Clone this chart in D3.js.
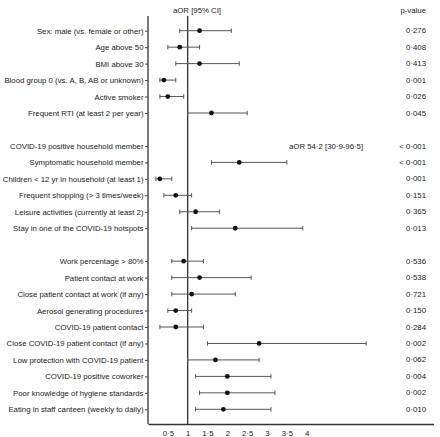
<!DOCTYPE html>
<html><head><meta charset="utf-8">
<script src="https://cdn.jsdelivr.net/npm/d3@7"></script>
<style>
html,body{margin:0;padding:0;background:#fff;}
svg{display:block;font-family:"Liberation Sans",Arial,sans-serif;}
</style></head>
<body>
<svg id="c" width="440" height="437"></svg>
<script>
const labels = [
 "Sex: male (vs. female or other)","Age above 50","BMI above 30","Blood group 0 (vs. A, B, AB or unknown)","Active smoker","Frequent RTI (at least 2 per year)",
 "",
 "COVID-19 positive household member","Symptomatic household member","Children < 12 yr in household (at least 1)","Frequent shopping (> 3 times/week)","Leisure activities (currently at least 2)","Stay in one of the COVID-19 hotspots",
 "",
 "Work percentage > 80%","Patient contact at work","Close patient contact at work (if any)","Aerosol generating procedures","COVID-19 patient contact","Close COVID-19 patient contact (if any)","Low protection with COVID-19 patient","COVID-19 positive coworker","Poor knowledge of hygiene standards","Eating in staff canteen (weekly to daily)"
];
const aor   = [1.3,0.8,1.3,0.4,0.5,1.6, null, null,2.3,0.3,0.7,1.2,2.2, null, 0.9,1.3,1.1,0.7,0.7,2.8,1.7,2.0,2.0,1.9];
const lower = [0.8,0.5,0.7,0.3,0.3,1.0, null, null,1.6,0.2,0.4,0.8,1.1, null, 0.6,0.6,0.6,0.5,0.3,1.5,1.0,1.2,1.3,1.2];
const upper = [2.1,1.3,2.3,0.7,0.9,2.5, null, null,3.5,0.6,1.1,1.8,3.9, null, 1.4,2.6,2.2,1.1,1.4,5.5,2.8,3.1,3.2,3.1];
const pvals = ["0·276","0·408","0·413","0·001","0·026","0·045","","< 0·001","< 0·001","0·001","0·151","0·365","0·013","","0·536","0·538","0·721","0·150","0·284","0·002","0·062","0·004","0·002","0·010"];
const offscaleNotes = ["","","","","","","","aOR 54·2 [30·9-96·5]","","","","","","","","","","","","","","","",""];
const xTicks = [0.5,1,1.5,2,2.5,3,3.5,4];

const FS = 7.8;
const svg = d3.select("#c");
const fmt = v => String(v).replace(".", "·");
const idx = d3.range(labels.length);
const x = d3.scaleLinear().domain([0, 7.2]).range([148, 433.6]);
const y = d3.scalePoint().domain(idx).range([30.7, 409.3]);
const axisBottomY = 424;
const topY = 16;
const textCol = "#222";

// x axis
const xa = svg.append("g").attr("transform", `translate(0,${axisBottomY})`)
  .call(d3.axisBottom(x).tickValues(xTicks).tickFormat(fmt).tickSize(0).tickPadding(6));
xa.select(".domain").attr("stroke", "#333").attr("stroke-width", 1.3);
xa.selectAll("text").attr("font-size", FS).attr("fill", textCol).attr("font-family", "Liberation Sans, Arial, sans-serif");

// left axis
const labeled = idx.filter(i => labels[i] !== "");
const ya = svg.append("g").attr("transform", `translate(${x(0)},0)`)
  .call(d3.axisLeft(y).tickValues(labeled).tickFormat(i => labels[i]).tickSize(3).tickPadding(1.5).tickSizeOuter(0));
ya.select(".domain").attr("d", `M0,${topY}V${axisBottomY}`).attr("stroke", "#333").attr("stroke-width", 1.3);
ya.selectAll(".tick line").attr("stroke", "#444");
ya.selectAll("text").attr("font-size", FS).attr("fill", textCol).attr("font-family", "Liberation Sans, Arial, sans-serif");

// reference line at 1
svg.append("line").attr("x1", x(1)).attr("x2", x(1)).attr("y1", topY).attr("y2", axisBottomY)
  .attr("stroke", "#333").attr("stroke-width", 1.3);

// error bars
const rows = idx.filter(i => aor[i] !== null);
const g = svg.append("g");
const capH = 2.2;
rows.forEach(i => {
  const yy = y(i);
  g.append("line").attr("x1", x(lower[i])).attr("x2", x(upper[i])).attr("y1", yy).attr("y2", yy).attr("stroke", "#555").attr("stroke-width", 1);
  [lower[i], upper[i]].forEach(v => {
    g.append("line").attr("x1", x(v)).attr("x2", x(v)).attr("y1", yy - capH).attr("y2", yy + capH).attr("stroke", "#555").attr("stroke-width", 1);
  });
  g.append("circle").attr("cx", x(aor[i])).attr("cy", yy).attr("r", 2.4).attr("fill", "#111");
});

// off-scale note
idx.filter(i => offscaleNotes[i] !== "").forEach(i => {
  svg.append("text").attr("x", 289).attr("y", y(i)).attr("dy", "0.33em").attr("font-size", FS).attr("fill", textCol).text(offscaleNotes[i]);
});

// p-values
svg.append("g").selectAll("text").data(idx.filter(i => pvals[i] !== "")).join("text")
  .attr("x", 426).attr("y", i => y(i)).attr("dy", "0.33em").attr("text-anchor", "end")
  .attr("font-size", FS).attr("fill", textCol).text(i => pvals[i]);

// headers
svg.append("text").attr("x", 197).attr("y", 13).attr("text-anchor", "middle").attr("font-size", FS).attr("fill", textCol).text("aOR [95% CI]");
svg.append("text").attr("x", 426).attr("y", 13).attr("text-anchor", "end").attr("font-size", FS).attr("fill", textCol).text("p-value");
</script>
</body></html>
